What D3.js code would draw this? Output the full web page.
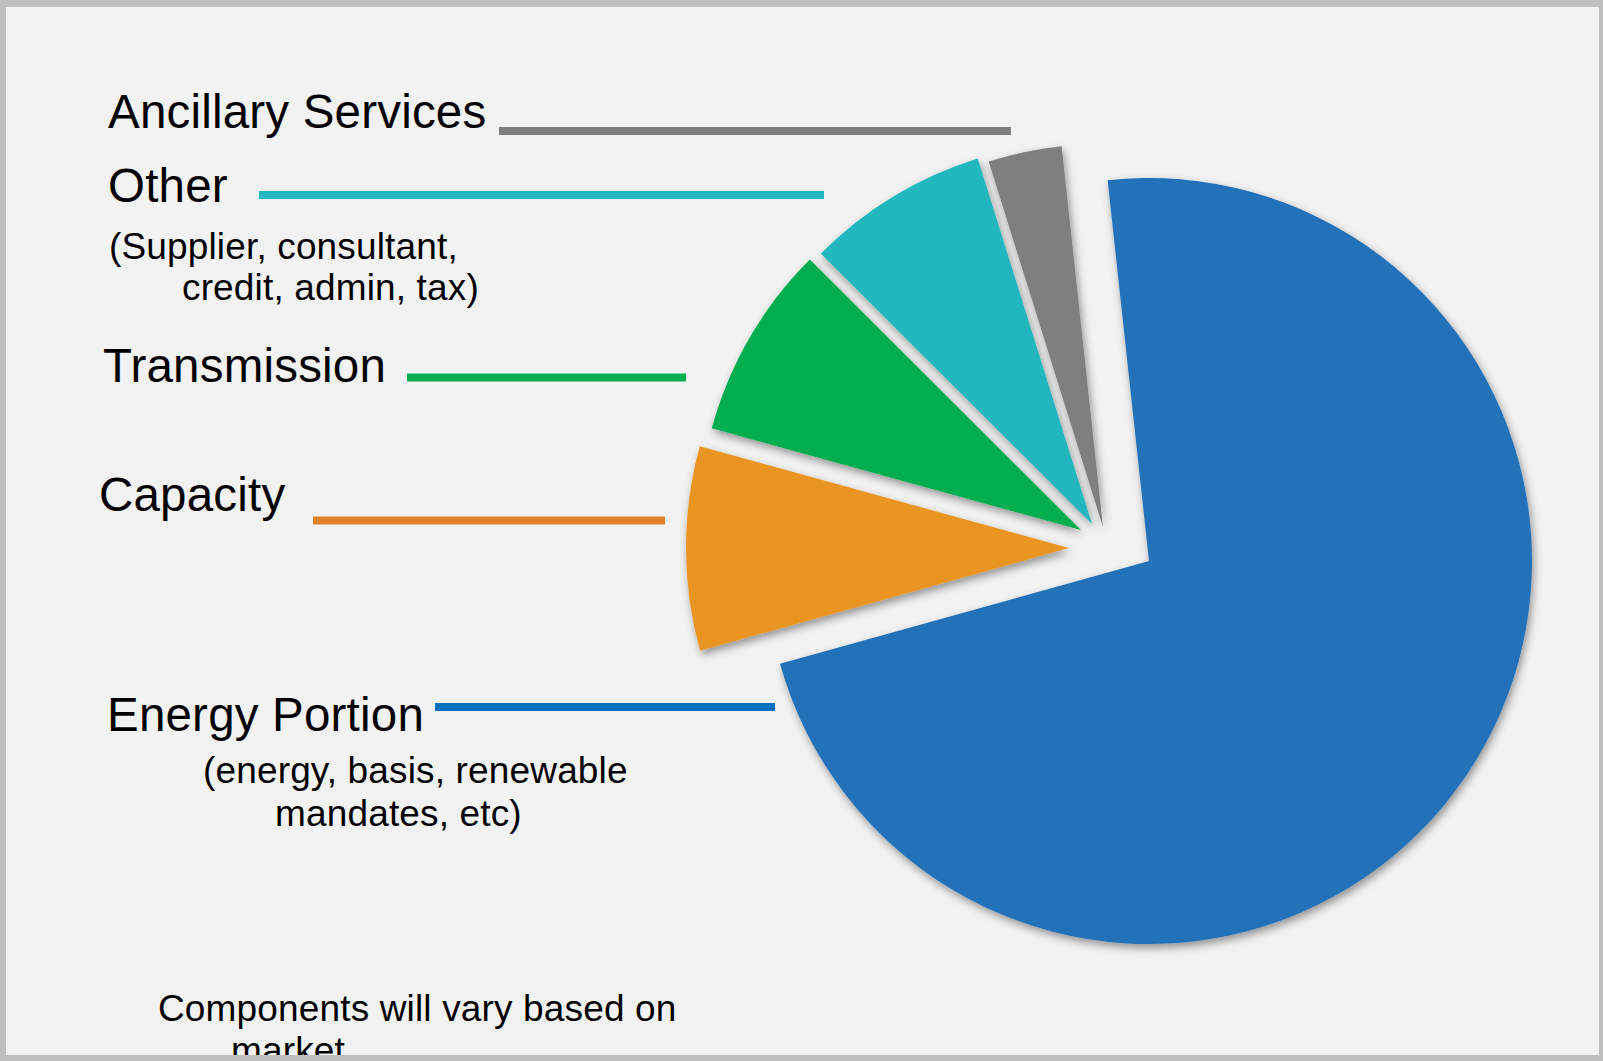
<!DOCTYPE html>
<html>
<head>
<meta charset="utf-8">
<script src="https://cdn.jsdelivr.net/npm/d3@7"></script>
<style>
  html, body { margin: 0; padding: 0; background: #bfbfbf; }
  svg { display: block; }
</style>
</head>
<body>
<div id="chart"></div>
<script>
// pie data (share of total bill, %)
const categories = ["Energy Portion", "Capacity", "Transmission", "Other", "Ancillary Services"];
const shares = [72.4, 8.6, 8.2, 7.7, 3.1];
const sliceColors = ["#2371b9", "#ea9524", "#00ae4f", "#22b7be", "#7f7f7f"];
const lineColors = ["#0070c0", "#e0802a", "#00b050", "#22b8c0", "#7f7f7f"];

// small explanatory lines under some labels
const otherNote = ["(Supplier, consultant,", "credit, admin, tax)"];
const energyNote = ["(energy, basis, renewable", "mandates, etc)"];
const footNote = ["Components will vary based on", "market"];

const width = 1603;
const height = 1061;
const radius = 383;
const center = {x: 1107, y: 544};
const font = "'Liberation Sans', Arial, Helvetica, sans-serif";

// how far each wedge is pulled out of the pie
const explode = {
  "Energy Portion": [42, 17],
  "Capacity": [-38, 4],
  "Transmission": [-26, -14],
  "Other": [-15, -20],
  "Ancillary Services": [-4, -17]
};

// label + leader line placement
const labelPos = {
  "Ancillary Services": {x: 108, y: 128, line: [499, 1011, 131]},
  "Other": {x: 108, y: 202, line: [259, 824, 195]},
  "Transmission": {x: 103, y: 382, line: [407, 686, 377.5]},
  "Capacity": {x: 99, y: 511, line: [313, 665, 520.5]},
  "Energy Portion": {x: 107, y: 731, line: [435, 775, 707]}
};

const svg = d3.select("#chart")
    .append("svg")
    .attr("width", width)
    .attr("height", height);

const defs = svg.append("defs");
defs.append("clipPath")
    .attr("id", "inner")
    .append("rect")
    .attr("x", 6).attr("y", 7)
    .attr("width", 1593).attr("height", 1048);

defs.append("filter")
    .attr("id", "shadow")
    .attr("x", "-20%").attr("y", "-20%")
    .attr("width", "140%").attr("height", "140%")
    .append("feDropShadow")
    .attr("dx", 2).attr("dy", 4)
    .attr("stdDeviation", 4)
    .attr("flood-color", "#000")
    .attr("flood-opacity", 0.4);

// grey frame + light slide background
svg.append("rect")
    .attr("width", width).attr("height", height)
    .attr("fill", "#bfbfbf");
svg.append("rect")
    .attr("x", 6).attr("y", 7)
    .attr("width", 1593).attr("height", 1048)
    .attr("fill", "#f2f2f2");

const content = svg.append("g").attr("clip-path", "url(#inner)");

const pieData = categories.map((c, i) => ({name: c, value: shares[i], color: sliceColors[i]}));

const start = -6.2 * Math.PI / 180;
const pie = d3.pie()
    .sort(null)
    .value(d => d.value)
    .startAngle(start)
    .endAngle(start + 2 * Math.PI);

const arc = d3.arc()
    .innerRadius(0)
    .outerRadius(radius);

const pieG = content.append("g")
    .attr("transform", `translate(${center.x},${center.y})`);

pieG.selectAll("path")
    .data(pie(pieData))
    .enter().append("path")
    .attr("transform", d => `translate(${explode[d.data.name][0]},${explode[d.data.name][1]})`)
    .attr("d", arc)
    .attr("fill", d => d.data.color)
    .attr("filter", "url(#shadow)");

// category labels with coloured leader lines
categories.forEach((c, i) => {
  const p = labelPos[c];
  content.append("text")
      .attr("x", p.x)
      .attr("y", p.y)
      .style("font-family", font)
      .style("font-size", "47.5px")
      .style("letter-spacing", "0.2px")
      .style("fill", "#000")
      .text(c);

  content.append("line")
      .attr("x1", p.line[0])
      .attr("x2", p.line[1])
      .attr("y1", p.line[2])
      .attr("y2", p.line[2])
      .attr("stroke", lineColors[i])
      .attr("stroke-width", 8);
});

function note(lines, xs, ys) {
  lines.forEach((t, i) => {
    content.append("text")
        .attr("x", xs[i])
        .attr("y", ys[i])
        .style("font-family", font)
        .style("font-size", "37px")
        .style("letter-spacing", "0.15px")
        .style("fill", "#000")
        .text(t);
  });
}

note(otherNote, [109, 182], [259, 300]);
note(energyNote, [203, 275], [783, 826]);
note(footNote, [158, 231], [1021, 1063]);
</script>
</body>
</html>
